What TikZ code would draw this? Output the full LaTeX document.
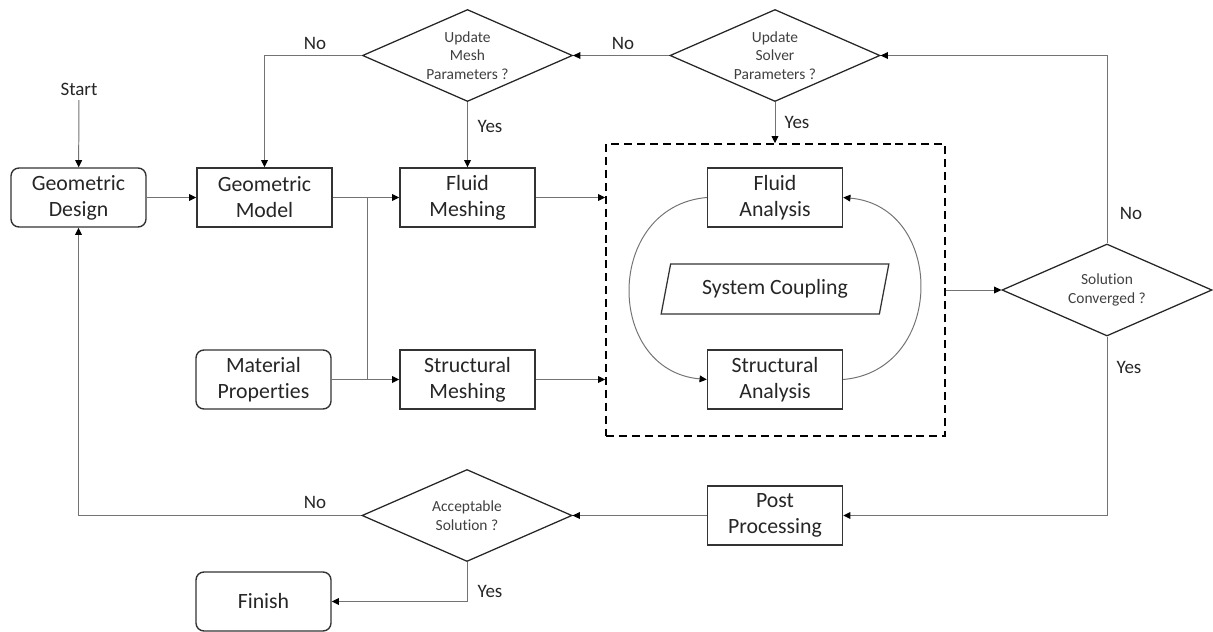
\documentclass[tikz,border=0pt]{standalone}
\usepackage{fontspec}
\setmainfont{Carlito}[Ligatures=NoCommon]
\usetikzlibrary{arrows.meta,positioning,shapes.geometric,calc}

\begin{document}
\begin{tikzpicture}[
  x=0.025cm,y=-0.025cm,
  box/.style={draw=black!80, line width=1pt, align=center, minimum width=3.375cm, minimum height=1.475cm, inner sep=2pt, font=\fontsize{15.5}{18.5}\selectfont, text=black!85},
  rbox/.style={box, rounded corners=0.2cm},
  dec/.style={diamond, draw=black!85, line width=0.9pt, minimum width=5.25cm, minimum height=2.3cm, inner sep=0pt},
  dtxt/.style={align=center, font=\fontsize{11}{13.1}\selectfont, text=black!75},
  lbl/.style={font=\fontsize{13.5}{16}\selectfont, text=black!85},
  conn/.style={draw=black!55, line width=0.7pt},
  arr/.style={conn, -{Triangle[length=1.8mm,width=1.7mm,color=black]}}
]
\useasboundingbox (0,0) rectangle (1213,632);
% main chain
\node[lbl] (start) at (79,89) {Start};
\node[rbox] (gdesign) at (78.5,197.5) {Geometric\\Design};
\node[box] (gmodel) at (264.5,197.5) {Geometric\\Model};
\node[box] (fmesh) at (467.5,197.5) {Fluid\\Meshing};
\node[rbox] (matprop) at (263.5,379.5) {Material\\Properties};
\node[box] (smesh) at (467.5,379.5) {Structural\\Meshing};
% coupled analysis
\node[draw=black, line width=1pt, dash pattern=on 5.7pt off 3.5pt, minimum width=8.475cm, minimum height=7.3cm] (fsi) at (775.5,290) {};
\node[box] (fana) at (775,197.5) {Fluid\\Analysis};
\node[box] (sana) at (775,379.5) {Structural\\Analysis};
\node[trapezium, trapezium left angle=76, trapezium right angle=104, trapezium stretches=true, draw=black!80, line width=0.9pt, minimum width=5.7cm, minimum height=1.25cm, font=\fontsize{15.5}{18.5}\selectfont, text=black!85] (coupling) at (775,289) {System Coupling};
\node[box] (post) at (775,515.5) {Post\\Processing};
\node[rbox] (finish) at (263.5,601.5) {Finish};
% decisions
\node[dec] (mesh) at (467.5,55.5) {};
\node[dtxt] (meshtxt) at (mesh) {Update\\Mesh\\Parameters ?};
\node[dec] (solver) at (775,55.5) {};
\node[dtxt] (solvertxt) at (solver) {Update\\Solver\\Parameters ?};
\node[dec] (conv) at (1107,290) {};
\node[dtxt] (convtxt) at (conv) {Solution\\Converged ?};
\node[dec] (accept) at (467,515.5) {};
\node[dtxt] (accepttxt) at (accept) {Acceptable\\Solution ?};
% labels
\node[lbl] (nomesh) at (315,43) {No};
\node[lbl] (nosolver) at (623,43) {No};
\node[lbl] (yesmesh) at (490,126) {Yes};
\node[lbl] (yessolver) at (797,122) {Yes};
\node[lbl] (noconv) at (1131,213) {No};
\node[lbl] (yesconv) at (1129,367) {Yes};
\node[lbl] (noaccept) at (315,502) {No};
\node[lbl] (yesaccept) at (490,591) {Yes};
% connectors
\coordinate (split) at (367,197.5);
\draw[arr] (start) -- (gdesign);
\draw[arr] (gdesign) -- (gmodel);
\draw[arr] (gmodel) -- (fmesh);
\draw[conn] (split) -- (split |- smesh);
\draw[arr] (matprop) -- (smesh);
\draw[arr] (fmesh) -- (fmesh -| fsi.west);
\draw[arr] (smesh) -- (smesh -| fsi.west);
\draw[arr] (solver.south) -- (solver.south |- fsi.north);
\draw[arr] (solver) -- (mesh);
\draw[arr] (mesh) -| (gmodel);
\draw[arr] (mesh) -- (fmesh);
\draw[arr] (fsi) -- (conv);
\draw[arr] (conv) |- (solver);
\draw[arr] (conv) |- (post);
\draw[arr] (post) -- (accept);
\draw[arr] (accept) -| (gdesign);
\draw[arr] (accept) |- (finish);
\draw[arr] (fana.west) to[out=185,in=175,looseness=1.45] (sana.west);
\draw[arr] (sana.east) to[out=5,in=-5,looseness=1.45] (fana.east);
\end{tikzpicture}
\end{document}
